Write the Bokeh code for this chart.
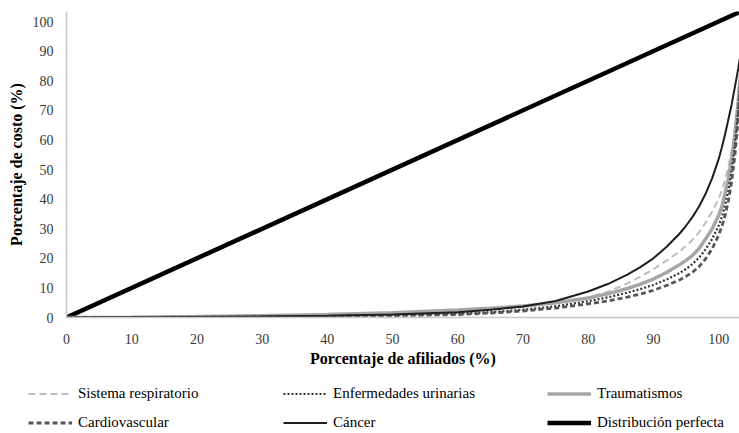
from bokeh.plotting import figure
from bokeh.layouts import column
from bokeh.models import Legend, LegendItem, FixedTicker
from bokeh.embed import file_html
from bokeh.resources import INLINE

# Percentage of affiliates (x) and cumulative cost share (y) per group
afiliados = [0, 10, 20, 30, 40, 50, 60, 65, 70, 75, 80, 83, 86, 88, 90, 92, 94, 95, 96, 97,
             98, 99, 100, 100.5, 101, 101.5, 102, 102.5, 103, 103.5]

sistema_respiratorio = [0, 0.1, 0.25, 0.5, 0.85, 1.35, 2.1, 2.7, 3.5, 4.8, 6.8, 8.7, 11.5, 13.8, 16.3,
                        19.2, 22.3, 24.2, 26.3, 28.8, 32.0, 35.8, 40.0, 43.0, 46.5, 51.0, 56.5,
                        63.5, 73.5, 86.0]
enfermedades_urinarias = [0, 0.05, 0.15, 0.3, 0.5, 0.8, 1.3, 1.8, 2.6, 3.8, 5.5, 6.8, 8.4, 9.6, 11.0,
                          12.8, 15.0, 16.4, 18.1, 20.2, 23.0, 26.5, 31.0, 34.0, 38.0, 43.0, 49.5,
                          58.0, 70.0, 86.0]
traumatismos = [0, 0.1, 0.3, 0.6, 1.0, 1.6, 2.5, 3.1, 3.9, 5.0, 6.6, 8.0, 9.8, 11.3, 13.0, 15.2, 17.8,
                19.3, 21.0, 23.3, 26.5, 30.0, 34.5, 37.5, 42.0, 47.0, 53.5, 62.0, 73.0, 86.0]
cardiovascular = [0, 0.05, 0.1, 0.2, 0.35, 0.6, 1.0, 1.5, 2.2, 3.2, 4.6, 5.6, 6.9, 7.9, 9.2, 10.8,
                  12.7, 13.9, 15.3, 17.2, 19.8, 23.2, 27.8, 30.8, 34.5, 39.5, 46.0, 55.0, 67.0, 85.0]
cancer = [0, 0.05, 0.15, 0.3, 0.55, 1.0, 1.8, 2.6, 3.7, 5.6, 8.8, 11.3, 14.5, 17.0, 20.0, 23.8, 28.3,
          31.0, 34.0, 37.5, 41.8, 47.0, 53.5, 57.5, 62.0, 67.0, 72.0, 78.0, 84.0, 91.0]
perfecta_x = [0, 100, 103.5]
perfecta_y = [0, 100, 103.5]

ticks = [0, 10, 20, 30, 40, 50, 60, 70, 80, 90, 100]

FONT = "Liberation Serif"

STY = {
    "perf": dict(line_color="black", line_width=4.5),
    "resp": dict(line_color="#bdbdbd", line_width=2, line_dash="7 4"),
    "trau": dict(line_color="#a6a6a6", line_width=3.5),
    "urin": dict(line_color="#333333", line_width=2.2, line_dash="2 2"),
    "card": dict(line_color="#555555", line_width=2.8, line_dash="5 3"),
    "canc": dict(line_color="#1e1e1e", line_width=2),
}

p = figure(width=739, height=380, x_range=(0, 103.2), y_range=(0, 103.4),
           output_backend="svg", toolbar_location=None, frame_align=False,
           min_border_left=66, min_border_right=0, min_border_top=11, min_border_bottom=63)
p.outline_line_color = None
p.grid.visible = False

for ax in (p.xaxis[0], p.yaxis[0]):
    ax.ticker = FixedTicker(ticks=ticks)
    ax.axis_line_color = "#c8c8c8"
    ax.axis_line_width = 1.5
    ax.major_tick_line_color = None
    ax.minor_tick_line_color = None
    ax.major_label_text_font = FONT
    ax.major_label_text_font_size = "14px"
    ax.major_label_text_color = "#383838"
    ax.axis_label_text_font = FONT
    ax.axis_label_text_font_size = "16px"
    ax.axis_label_text_font_style = "bold"
    ax.axis_label_text_color = "black"

p.xaxis.axis_label = "Porcentaje de afiliados (%)"
p.yaxis.axis_label = "Porcentaje de costo (%)"
p.xaxis.major_label_standoff = 10
p.xaxis.axis_label_standoff = 3
p.yaxis.major_label_standoff = 7
p.yaxis.axis_label_standoff = 5

series = {
    "perf": (perfecta_x, perfecta_y),
    "resp": (afiliados, sistema_respiratorio),
    "trau": (afiliados, traumatismos),
    "urin": (afiliados, enfermedades_urinarias),
    "card": (afiliados, cardiovascular),
    "canc": (afiliados, cancer),
}
for k, (xs, ys) in series.items():
    p.line(xs, ys, **STY[k])

# Legend panel below the chart (its own plot; the series lie outside its visible range)
lf = figure(width=739, height=53, x_range=(0, 1), y_range=(1000, 1001),
            output_backend="svg", toolbar_location=None, frame_align=False,
            x_axis_type=None, y_axis_type=None,
            min_border_left=0, min_border_right=0, min_border_top=0, min_border_bottom=0)
lf.outline_line_color = None
lf.grid.visible = False

leg_r = {k: lf.line(xs, ys, **STY[k]) for k, (xs, ys) in series.items()}

columns_legend = [
    ([("Sistema respiratorio", "resp"), ("Cardiovascular", "card")], 28),
    ([("Enfermedades urinarias", "urin"), ("Cáncer", "canc")], 283),
    ([("Traumatismos", "trau"), ("Distribución perfecta", "perf")], 547),
]
for items, x0 in columns_legend:
    lg = Legend(items=[LegendItem(label=lab, renderers=[leg_r[k]]) for lab, k in items],
                location=(x0, 2), orientation="vertical",
                glyph_width=44, glyph_height=15, label_height=15, label_standoff=6,
                spacing=12, padding=0, margin=0, border_line_color=None,
                background_fill_alpha=0,
                label_text_font=FONT, label_text_font_size="15px", label_text_color="black")
    lf.add_layout(lg)

open("out.html", "w").write(file_html(column(p, lf, spacing=0), INLINE))
